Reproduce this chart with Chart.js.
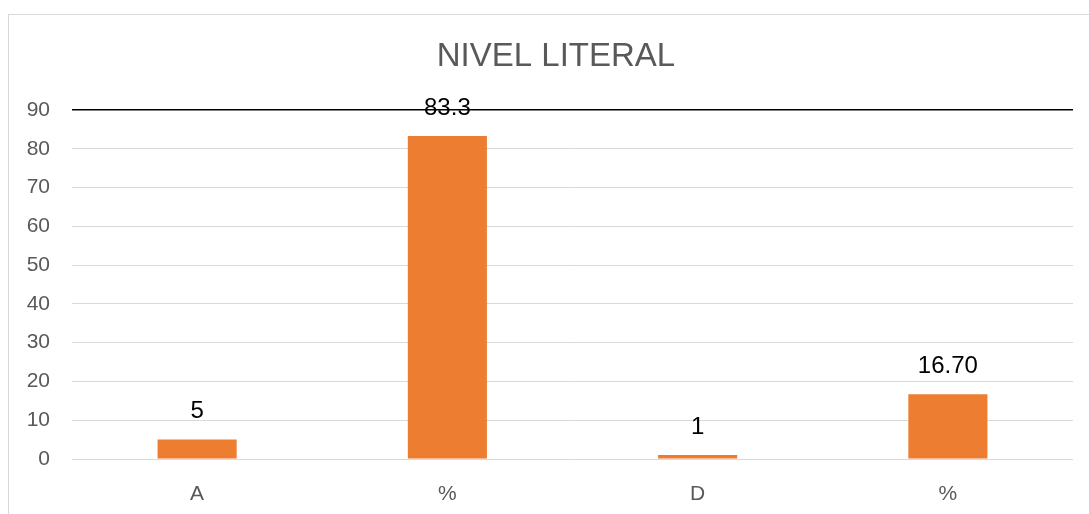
<!DOCTYPE html>
<html>
<head>
<meta charset="utf-8">
<script src="https://cdn.jsdelivr.net/npm/chart.js@4"></script>
<style>
    html, body { margin: 0; padding: 0; background: #fff; overflow: hidden; }
    #frame {
        position: absolute; left: 8px; top: 14px;
        width: 1200px; height: 600px;
        border: 1px solid #d9d9d9; box-sizing: border-box;
    }
    #wrap { position: absolute; left: 0; top: 0; width: 1089px; height: 514px; }
</style>
</head>
<body>
<div id="frame"></div>
<div id="wrap"><canvas id="nivelChart" width="1089" height="514"></canvas></div>
<script>
// Chart data
const categories = ['A', '%', 'D', '%'];
const values = [5, 83.3, 1, 16.7];
const valueLabels = ['5', '83.3', '1', '16.70'];
const yTicks = [0, 10, 20, 30, 40, 50, 60, 70, 80, 90];

const FONT = '"Liberation Sans", Arial, sans-serif';

// Title drawn centred on the outer frame (which runs past the window)
const titlePlugin = {
    id: 'frameTitle',
    afterDraw(chart) {
        const ctx = chart.ctx;
        ctx.save();
        ctx.font = '33px ' + FONT;
        ctx.fillStyle = '#595959';
        ctx.textAlign = 'center';
        ctx.textBaseline = 'middle';
        ctx.fillText('NIVEL LITERAL', 556, 57);
        ctx.restore();
    }
};

// Value labels above each bar
const valueLabelPlugin = {
    id: 'valueLabels',
    afterDatasetsDraw(chart) {
        const ctx = chart.ctx;
        const meta = chart.getDatasetMeta(0);
        ctx.save();
        ctx.font = '24px ' + FONT;
        ctx.fillStyle = '#000';
        ctx.textAlign = 'center';
        ctx.textBaseline = 'middle';
        meta.data.forEach((bar, i) => {
            ctx.fillText(valueLabels[i], bar.x, bar.y - 28);
        });
        ctx.restore();
    }
};

new Chart(document.getElementById('nivelChart').getContext('2d'), {
    type: 'bar',
    data: {
        labels: categories,
        datasets: [{
            data: values,
            backgroundColor: '#ED7D31',
            borderWidth: 0,
            categoryPercentage: 0.316,
            barPercentage: 1
        }]
    },
    options: {
        responsive: false,
        animation: false,
        devicePixelRatio: 1,
        layout: { padding: { top: 110, right: 16, bottom: 0, left: 0 } },
        plugins: {
            legend: { display: false },
            title: { display: false },
            tooltip: { enabled: false }
        },
        scales: {
            x: {
                grid: { display: false },
                border: { display: false },
                ticks: {
                    color: '#595959',
                    font: { family: FONT, size: 21 },
                    padding: 15
                },
                afterFit(scale) { scale.height = 55; }
            },
            y: {
                min: 0,
                max: 90,
                afterBuildTicks(scale) {
                    scale.ticks = yTicks.map(v => ({ value: v }));
                },
                grid: {
                    drawTicks: false,
                    color: ctx => ctx.tick && ctx.tick.value === 90 ? '#000' : '#d9d9d9',
                    lineWidth: ctx => ctx.tick && ctx.tick.value === 90 ? 1.5 : 1
                },
                border: { display: false },
                ticks: {
                    color: '#595959',
                    font: { family: FONT, size: 21 },
                    padding: 22
                },
                afterFit(scale) { scale.width = 72; }
            }
        }
    },
    plugins: [titlePlugin, valueLabelPlugin]
});
</script>
</body>
</html>
